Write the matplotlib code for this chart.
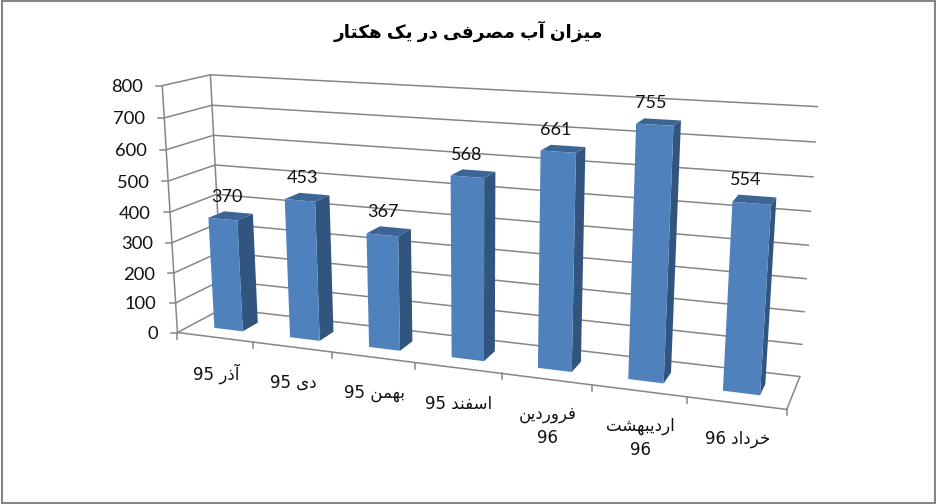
import numpy as np
import matplotlib
matplotlib.use("Agg")
import matplotlib.pyplot as plt
from matplotlib.patches import Polygon, Rectangle

# ---- data ----
title_text = "میزان آب مصرفی در یک هکتار"
categories = ["آذر 95", "دی 95", "بهمن 95", "اسفند 95", "فروردین\n96", "اردیبهشت\n96", "خرداد 96"]
values = [370, 453, 367, 568, 661, 755, 554]
y_ticks = [0, 100, 200, 300, 400, 500, 600, 700, 800]

FONT = ["DejaVu Sans"]
TITLE_FONT = ["Liberation Sans", "DejaVu Sans"]
NUM_FONT = ["Lato", "DejaVu Sans"]

# ---- minimal Arabic shaping (matplotlib has no shaper) ----
FORMS = {  # isolated, final, initial, medial
    "ا": "\ufe8d\ufe8e", "آ": "\ufe81\ufe82", "د": "\ufea9\ufeaa", "ذ": "\ufeab\ufeac",
    "ر": "\ufead\ufeae", "ز": "\ufeaf\ufeb0", "و": "\ufeed\ufeee",
    "ب": "\ufe8f\ufe90\ufe91\ufe92", "ت": "\ufe95\ufe96\ufe97\ufe98",
    "خ": "\ufea5\ufea6\ufea7\ufea8", "س": "\ufeb1\ufeb2\ufeb3\ufeb4",
    "ص": "\ufeb9\ufeba\ufebb\ufebc", "ف": "\ufed1\ufed2\ufed3\ufed4",
    "ل": "\ufedd\ufede\ufedf\ufee0", "م": "\ufee1\ufee2\ufee3\ufee4",
    "ن": "\ufee5\ufee6\ufee7\ufee8", "ه": "\ufee9\ufeea\ufeeb\ufeec",
    "ش": "\ufeb5\ufeb6\ufeb7\ufeb8", "ک": "\ufb8e\ufb8f\ufb90\ufb91",
    "ی": "\ufbfc\ufbfd\ufbfe\ufbff",
}

def shape(s):
    out = []
    for i, c in enumerate(s):
        if c not in FORMS:
            out.append(c)
            continue
        prev = s[i - 1] if i else ""
        nxt = s[i + 1] if i + 1 < len(s) else ""
        joins_prev = prev in FORMS and len(FORMS[prev]) == 4
        joins_next = nxt in FORMS and len(FORMS[c]) == 4
        f = FORMS[c]
        idx = {(False, False): 0, (True, False): 1, (False, True): 2, (True, True): 3}[(joins_prev, joins_next)]
        out.append(f[idx])
    # visual order: reverse words, keep digit runs left-to-right
    tokens = "".join(out).split(" ")
    tokens = [t if t.isdigit() else t[::-1] for t in tokens]
    return " ".join(tokens[::-1])

def shape_lines(s):
    return "\n".join(shape(x) for x in s.split("\n"))

# ---- 3D scale: (x 0..1, value 0..800, depth 0..1) -> canvas pixels, fitted to the box corners ----
box = [((0, 0, 0), (178, 332)), ((0, 800, 0), (161.7, 85.7)),
       ((0, 0, 1), (222, 309)), ((0, 800, 1), (211, 74.7)),
       ((1, 0, 1), (800, 376)), ((1, 800, 1), (817.7, 106.7)),
       ((1, 0, 0), (786.7, 410))]
A, b = [], []
for (X, Y, Z), (u, v) in box:
    Y = Y / 800
    A.append([X, Y, Z, 1, 0, 0, 0, 0, -u * X, -u * Y, -u * Z]); b.append(u)
    A.append([0, 0, 0, 0, X, Y, Z, 1, -v * X, -v * Y, -v * Z]); b.append(v)
sol = np.linalg.lstsq(np.array(A, float), np.array(b, float), rcond=None)[0]
P = np.append(sol, 1).reshape(3, 4)

def proj(x, y, z):
    h = P @ np.array([x, y / 800, z, 1.0])
    return h[0] / h[2], h[1] / h[2]

fig = plt.figure(figsize=(9.36, 5.04), dpi=100)
ax = fig.add_axes([0, 0, 1, 1])
ax.set_xlim(0, 936); ax.set_ylim(504, 0); ax.axis("off")

GRID = "#868686"
lw = 1.1
def line(a, b, **k):
    ax.plot([a[0], b[0]], [a[1], b[1]], color=GRID, lw=lw, solid_capstyle="round", **k)

# outer frame
ax.add_patch(Rectangle((2, 1), 932.8, 502, fc="none", ec="#868686", lw=1.5, clip_on=False))

# walls and gridlines
for v in y_ticks:
    line(proj(0, v, 0), proj(0, v, 1))
    line(proj(0, v, 1), proj(1, v, 1))
    a = proj(0, v, 0)
    ax.plot([a[0] - 6, a[0]], [a[1], a[1]], color=GRID, lw=lw)
    ax.text(a[0] - 19, a[1] + 1.5, str(v), ha="right", va="center", fontsize=13.2, family=NUM_FONT, color="#111111")
line(proj(0, 0, 0), proj(0, 800, 0))
line(proj(0, 0, 1), proj(0, 800, 1))
line(proj(1, 0, 1), proj(1, 0, 0))
line(proj(0, 0, 0), proj(1, 0, 0))
n = len(values)
for i in range(n + 1):
    a = proj(i / n, 0, 0)
    ax.plot([a[0], a[0]], [a[1], a[1] + 6], color=GRID, lw=lw)

# bars
GAP = 0.31
DEPTH = (0.30, 0.65)
FRONT, TOP, SIDE = "#4F81BD", "#3C6494", "#31557F"
for i, v in enumerate(values):
    x0, x1 = (i + GAP) / n, (i + 1 - GAP) / n
    z0, z1 = DEPTH
    ax.add_patch(Polygon([proj(x1, 0, z0), proj(x1, v, z0), proj(x1, v, z1), proj(x1, 0, z1)], fc=SIDE, ec="none", zorder=3))
    ax.add_patch(Polygon([proj(x0, v, z0), proj(x1, v, z0), proj(x1, v, z1), proj(x0, v, z1)], fc=TOP, ec="none", zorder=3))
    ax.add_patch(Polygon([proj(x0, 0, z0), proj(x1, 0, z0), proj(x1, v, z0), proj(x0, v, z0)], fc=FRONT, ec="none", zorder=4))
    tx, ty = proj((i + 0.5) / n, v, DEPTH[1])
    ax.text(tx - 12, ty - 16, str(v), ha="center", va="center", fontsize=13, family=NUM_FONT, color="#111111", zorder=5)
    cx, cy = proj((i + 0.5) / n, 0, 0)
    two = "\n" in categories[i]
    ax.text(cx + 1, cy + (47 if two else 36), shape_lines(categories[i]), ha="center", va="center",
            fontsize=12, family=FONT, color="#111111", linespacing=1.45)

ax.text(468, 31, shape(title_text), ha="center", va="center", fontsize=13.2, family=TITLE_FONT, fontweight="bold", color="black")

fig.savefig("out.png", dpi=100)
